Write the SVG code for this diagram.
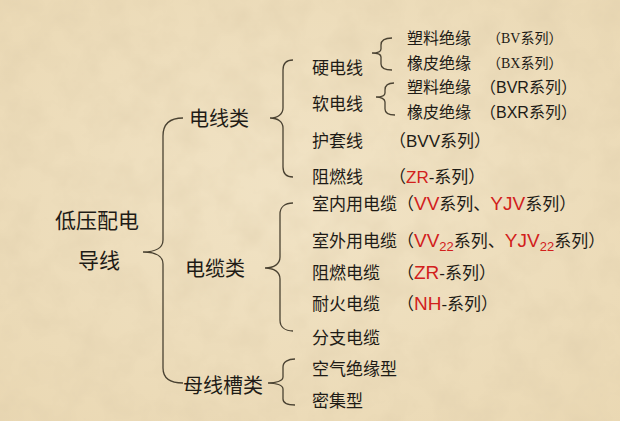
<svg xmlns="http://www.w3.org/2000/svg" width="620" height="421" viewBox="0 0 620 421">
<defs>
<radialGradient id="bg" cx="50%" cy="45%" r="75%">
<stop offset="0" stop-color="#f1e3c5"/>
<stop offset="1" stop-color="#ead8b3"/>
</radialGradient>
<filter id="tex" x="0" y="0" width="100%" height="100%">
<feTurbulence type="fractalNoise" baseFrequency="0.03" numOctaves="4" seed="7"/>
<feColorMatrix type="matrix" values="0 0 0 0 0.72  0 0 0 0 0.6  0 0 0 0 0.4  0.7 0 0 0 -0.25"/>
</filter>
</defs>
<style>
text{font-family:"Liberation Sans","Noto Sans CJK SC",sans-serif;fill:#1e1b16}
.l0{font-size:21px}
.l1{font-size:20px}
.l2{font-size:17px}
.l3{font-size:16px}
.ser{font-family:"Liberation Serif","Noto Sans CJK SC",serif;font-size:14px}
.r{fill:#d2201c}
.big{font-size:19px}
.sub{font-size:13px}
.br{fill:none;stroke:#4a4232;stroke-width:1.3}
</style>
<rect width="620" height="421" fill="url(#bg)"/>
<rect width="620" height="421" filter="url(#tex)"/>
<g id="connectors">
<path class="br" d="M183,118 C170,118 163,124 163,136 L163,240 C163,248 155,252 143,252 C155,252 163,256 163,264 L163,368 C163,378 170,383 183,383"/>
<path class="br" d="M293,60 C287,60 283,63 283,70 L283,108 C283,114 278,118 270,118 C278,118 283,122 283,128 L283,167 C283,174 287,177 293,177"/>
<path class="br" d="M293,203 C285,203 280,207 280,214 L280,257 C280,264 274,268 265,268 C274,268 280,272 280,279 L280,320 C280,327 285,331 293,331"/>
<path class="br" d="M295,359 C288,359 283,362 283,367 L283,377 C283,381 276,383 268,383 C276,383 283,385 283,389 L283,399 C283,403 288,405 295,405"/>
<path class="br" d="M392,38 C385,38 381,40 381,45 L381,49 C381,52 377,53 372,53 C377,53 381,54 381,57 L381,64 C381,68 385,70 392,70"/>
<path class="br" d="M394,83 C388,83 385,86 385,90 L385,93 C385,96 381,97 376,97 C381,97 385,99 385,102 L385,109 C385,113 389,115 395,115"/>
</g>
<g id="root">
<text class="l0" x="55" y="228">低压配电</text>
<text class="l0" x="78" y="268">导线</text>
</g>
<g id="wire">
<text class="l1" x="189" y="126">电线类</text>
</g>
<g id="cable">
<text class="l1" x="185" y="276">电缆类</text>
</g>
<g id="busway">
<text class="l1" x="183" y="393">母线槽类</text>
</g>
<g id="hard">
<text class="l2" x="312" y="73.5">硬电线</text>
</g>
<g id="soft">
<text class="l2" x="312" y="110">软电线</text>
</g>
<g id="hard-pvc">
<text class="l3" x="407" y="44">塑料绝缘</text>
<text class="ser" x="487" y="43">（BV系列）</text>
</g>
<g id="hard-rubber">
<text class="l3" x="407" y="69">橡皮绝缘</text>
<text class="ser" x="487" y="68">（BX系列）</text>
</g>
<g id="soft-pvc">
<text class="l3" x="407" y="93">塑料绝缘</text>
<text class="l3" x="480" y="93">（BVR系列）</text>
</g>
<g id="soft-rubber">
<text class="l3" x="407" y="118">橡皮绝缘</text>
<text class="l3" x="480" y="118">（BXR系列）</text>
</g>
<g id="sheathed">
<text class="l2" x="389" y="146.5">（BVV系列）</text>
<text class="l2" x="312" y="146.5">护套线</text>
</g>
<g id="fr-wire">
<text class="l2" x="312" y="182.5">阻燃线</text>
<text class="l2" x="389" y="182.5">（<tspan class="r">ZR</tspan>-系列）</text>
</g>
<g id="indoor">
<text class="l2" x="312" y="209.5">室内用电缆（<tspan class="r big">VV</tspan>系列、<tspan class="r big">YJV</tspan>系列）</text>
</g>
<g id="outdoor">
<text class="l2" x="312" y="246.5">室外用电缆（<tspan class="r big">VV</tspan><tspan class="r sub" dy="4">22</tspan><tspan dy="-4">系列、</tspan><tspan class="r big">YJV</tspan><tspan class="r sub" dy="4">22</tspan><tspan dy="-4">系列）</tspan></text>
</g>
<g id="fr-cable">
<text class="l2" x="312" y="278.5">阻燃电缆</text>
<text class="l2" x="397" y="278.5">（<tspan class="r big">ZR</tspan>-系列）</text>
</g>
<g id="fire-cable">
<text class="l2" x="312" y="309.5">耐火电缆</text>
<text class="l2" x="397" y="309.5">（<tspan class="r big">NH</tspan>-系列）</text>
</g>
<g id="branch">
<text class="l2" x="312" y="343.5">分支电缆</text>
</g>
<g id="air">
<text class="l2" x="312" y="374.5">空气绝缘型</text>
</g>
<g id="dense">
<text class="l2" x="312" y="406.5">密集型</text>
</g>
</svg>
